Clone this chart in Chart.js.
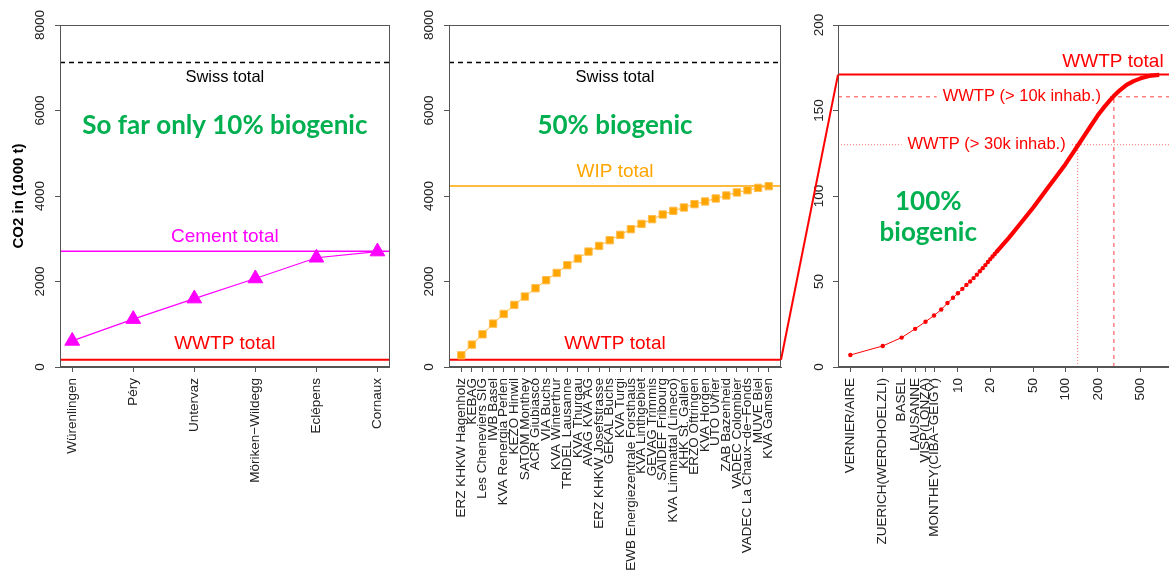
<!DOCTYPE html>
<html lang="en">
<head>
<meta charset="UTF-8">
<title>CO2 point sources</title>
<script src="https://cdn.jsdelivr.net/npm/chart.js"></script>
<style>
  html, body {
    margin: 0;
    padding: 0;
    background: white;
    width: 1169px;
    height: 576px;
    overflow: hidden;
  }
  .panel { position: absolute; top: 0; width: 400px; height: 576px; }
  #p1 { left: 0; }
  #p2 { left: 400px; }
  #p3 { left: 780px; }
  #link { position: absolute; left: 0; top: 0; pointer-events: none; }
</style>
</head>
<body>

<div class="panel" id="p1"><canvas id="c1" width="400" height="576"></canvas></div>
<div class="panel" id="p2"><canvas id="c2" width="400" height="576"></canvas></div>
<div class="panel" id="p3"><canvas id="c3" width="400" height="576"></canvas></div>
<canvas id="link" width="1169" height="576"></canvas>

<script>
// cumulative CO2 in 1000 t

// cement plants
const cementPlants = ['Würenlingen', 'Péry', 'Untervaz', 'Möriken−Wildegg', 'Eclépens', 'Cornaux'];
const cementCum = [610, 1120, 1600, 2070, 2555, 2700];

// waste incineration plants
const wipPlants = [
  'ERZ KHKW Hagenholz', 'KEBAG', 'Les Cheneviers SIG', 'IWB Basel', 'KVA Renergia Perlen',
  'KEZO Hinwil', 'SATOM Monthey', 'ACR Giubiasco', 'VIA Buchs', 'KVA Winterthur',
  'TRIDEL Lausanne', 'KVA Thurgau', 'AVAG KVA AG', 'ERZ KHKW Josefstrasse', 'GEKAL Buchs',
  'KVA Turgi', 'EWB Energiezentrale Forsthaus', 'KVA Linthgebiet', 'GEVAG Trimmis', 'SAIDEF Fribourg',
  'KVA Limmattal (Limeco)', 'KHK St. Gallen', 'ERZO Oftringen', 'KVA Horgen', 'UTO Uvrier',
  'ZAB Bazenheid', 'VADEC Colombier', 'VADEC La Chaux−de−Fonds', 'MUVE Biel', 'KVA Gamsen'
];
const wipCum = [
  274, 524, 765, 1015, 1241, 1452, 1648, 1842, 2030, 2200,
  2381, 2537, 2700, 2833, 2966, 3091, 3224, 3348, 3458, 3567,
  3652, 3731, 3809, 3872, 3942, 4012, 4083, 4136, 4190, 4230
];

// waste water treatment plants, ranked (log axis)
const wwtpNamed = ['VERNIER/AIRE', 'ZUERICH(WERDHOELZLI)', 'BASEL', 'LAUSANNE', 'VISP(LONZA)', 'MONTHEY(CIBA−GEIGY)'];
const rankTicks = [10, 20, 50, 100, 200, 500];
const wwtpRank = [
  1, 2, 3, 4, 5, 6, 7, 8, 9, 10, 11, 12, 13, 14, 15, 16, 17, 18, 19, 20, 21, 22, 23,
  25, 30, 35, 40, 50, 60, 70, 80, 100, 120, 130, 150, 170, 200, 230, 260, 280,
  320, 370, 430, 500, 600, 700, 745
];
const wwtpCum = [
  7.0, 12.3, 17.2, 22.3, 26.5, 30.1, 33.6, 37.4, 40.5, 43.1, 45.7, 48.0, 50.0, 52.0, 54.0,
  56.0, 57.8, 59.6, 61.4, 63.1, 64.6, 66.1, 67.5,
  70.1, 75.8, 81.0, 85.5, 93.1, 99.8, 105.5, 110.4, 118.6, 126.1, 129.4, 135.3, 140.5,
  147.2, 152.1, 156.1, 158.3, 161.8, 165.0, 167.2, 168.8, 170.2, 170.7, 170.8
];

// totals
const swissTotal = 7120;
const cementTotal = 2710;
const wipTotal = 4235;
const wwtpTotal = 171;
const sizeRanks = [282, 130];   // WWTP > 10k, > 30k inhabitants
const sizeCum = [158, 130];

const GREEN = '#00b050';
const RED = '#ff0000';
const MAGENTA = '#ff00ff';
const ORANGE = '#ffa500';
const AXIS = '#555';
const sans = "'Liberation Sans', Arial, sans-serif";
const tickFont = { family: sans, size: 13.5 };
const bigGreen = { family: "Lato, 'Open Sans', sans-serif", size: 26, weight: 'bold' };

function drawNote(ctx, a, x, y, n) {
  const f = n.font;
  ctx.font = (f.weight || 'normal') + ' ' + f.size + 'px ' + f.family;
  let px;
  if (n.x === 'center') px = (a.left + a.right) / 2;
  else if (n.x === 'right') px = a.right;
  else px = x.getPixelForValue(n.x);
  px += n.dx || 0;
  const py = y.getPixelForValue(n.y) + (n.dy || 0);
  ctx.textAlign = n.align || 'center';
  ctx.textBaseline = 'middle';
  if (n.bg) {
    const w = ctx.measureText(n.text).width;
    const x0 = n.align === 'right' ? px - w : px - w / 2;
    ctx.fillStyle = n.bg;
    ctx.fillRect(x0 - 6, py - f.size / 2 - 1, w + 12, f.size + 2);
  }
  ctx.fillStyle = n.color;
  ctx.fillText(n.text, px, py);
}

function decor(id, lines, notes) {
  return {
    id: id,
    beforeDatasetsDraw(chart) {
      const { ctx, chartArea: a, scales: { x, y } } = chart;
      ctx.save();
      for (const l of lines) {
        ctx.strokeStyle = l.color;
        ctx.lineWidth = l.width;
        ctx.setLineDash(l.dash || []);
        ctx.beginPath();
        if (l.x !== undefined) {
          const px = x.getPixelForValue(l.x);
          ctx.moveTo(px, a.bottom);
          ctx.lineTo(px, y.getPixelForValue(l.y));
        } else {
          const py = y.getPixelForValue(l.y);
          ctx.moveTo(a.left, py);
          ctx.lineTo(a.right, py);
        }
        ctx.stroke();
      }
      ctx.setLineDash([]);
      // labels with a background sit under the data
      notes.filter(n => n.bg).forEach(n => drawNote(ctx, a, x, y, n));
      ctx.restore();
    },
    afterDatasetsDraw(chart) {
      const { ctx, chartArea: a, scales: { x, y } } = chart;
      ctx.save();
      // plot box
      ctx.strokeStyle = AXIS;
      ctx.lineWidth = 1;
      ctx.strokeRect(Math.round(a.left) + 0.5, Math.round(a.top) + 0.5,
                     Math.round(a.width) - 1, Math.round(a.height) - 1);
      notes.filter(n => !n.bg).forEach(n => drawNote(ctx, a, x, y, n));
      ctx.restore();
    }
  };
}

function yAxis(max, step, width, pad, title) {
  return {
    min: 0,
    max: max,
    border: { display: true, color: AXIS },
    grid: { drawOnChartArea: false, tickLength: 5, color: AXIS },
    ticks: {
      stepSize: step, minRotation: 90, maxRotation: 90, crossAlign: 'center',
      padding: pad, color: '#222', font: tickFont,
      callback: v => String(v)
    },
    title: title ? {
      display: true, text: title, color: '#000',
      font: { family: sans, size: 15, weight: 'bold' },
      padding: { top: 10, bottom: 0 }
    } : { display: false },
    afterFit: s => { s.width = width; }
  };
}

function xAxis(type, min, max, tickValues, label) {
  return {
    type: type,
    min: min,
    max: max,
    border: { display: true, color: AXIS },
    grid: { drawOnChartArea: false, tickLength: 5, color: AXIS },
    afterBuildTicks: s => { s.ticks = tickValues.map(v => ({ value: v })); },
    ticks: {
      autoSkip: false, minRotation: 90, maxRotation: 90, padding: 6,
      color: '#222', font: tickFont,
      callback: v => label(v)
    },
    afterFit: s => { s.height = 209; }
  };
}

function baseOptions(padRight, scales) {
  return {
    responsive: false,
    animation: false,
    layout: { padding: { left: 0, top: 25, right: padRight, bottom: 0 } },
    plugins: { legend: { display: false }, tooltip: { enabled: false } },
    scales: scales
  };
}

// panel 1: cement
const chart1 = new Chart(document.getElementById('c1'), {
  type: 'scatter',
  data: {
    datasets: [{
      data: cementCum.map((v, i) => ({ x: i + 1, y: v })),
      showLine: true,
      borderColor: MAGENTA,
      borderWidth: 1.2,
      pointStyle: 'triangle',
      pointRadius: 8.5,
      pointBackgroundColor: MAGENTA,
      pointBorderColor: MAGENTA,
      pointBorderWidth: 1
    }]
  },
  options: baseOptions(8, {
    x: xAxis('linear', 0.8, cementPlants.length + 0.2, cementPlants.map((_, i) => i + 1), v => cementPlants[v - 1]),
    y: yAxis(8000, 2000, 60, 0, 'CO2 in (1000 t)')
  }),
  plugins: [decor('d1', [
    { y: swissTotal, color: '#000', width: 1.5, dash: [5, 4] },
    { y: cementTotal, color: MAGENTA, width: 1.5 },
    { y: wwtpTotal, color: RED, width: 2 }
  ], [
    { text: 'Swiss total', x: 'center', y: swissTotal, dy: 15, color: '#000', font: { family: sans, size: 16.5 } },
    { text: 'So far only 10% biogenic', x: 'center', y: 5650, color: GREEN, font: bigGreen },
    { text: 'Cement total', x: 'center', y: cementTotal, dy: -14, color: MAGENTA, font: { family: sans, size: 19 } },
    { text: 'WWTP total', x: 'center', y: wwtpTotal, dy: -16, color: RED, font: { family: sans, size: 19 } }
  ])]
});

// panel 2: waste incineration
const span2 = (wipPlants.length - 1) * 0.04;
const chart2 = new Chart(document.getElementById('c2'), {
  type: 'scatter',
  data: {
    datasets: [{
      data: wipCum.map((v, i) => ({ x: i + 1, y: v })),
      showLine: true,
      borderColor: 'rgba(255,165,0,0.8)',
      borderWidth: 1,
      pointStyle: 'rect',
      pointRadius: 5.2,
      pointBackgroundColor: ORANGE,
      pointBorderColor: 'rgba(255,190,80,1)',
      pointBorderWidth: 1
    }]
  },
  options: baseOptions(19, {
    x: xAxis('linear', 1 - span2, wipPlants.length + span2, wipPlants.map((_, i) => i + 1), v => wipPlants[v - 1]),
    y: yAxis(8000, 2000, 49, 0, null)
  }),
  plugins: [decor('d2', [
    { y: swissTotal, color: '#000', width: 1.5, dash: [5, 4] },
    { y: wipTotal, color: ORANGE, width: 1.5 },
    { y: wwtpTotal, color: RED, width: 2 }
  ], [
    { text: 'Swiss total', x: 'center', y: swissTotal, dy: 15, color: '#000', font: { family: sans, size: 16.5 } },
    { text: '50% biogenic', x: 'center', y: 5650, color: GREEN, font: bigGreen },
    { text: 'WIP total', x: 'center', y: wipTotal, dy: -14, color: ORANGE, font: { family: sans, size: 19 } },
    { text: 'WWTP total', x: 'center', y: wwtpTotal, dy: -16, color: RED, font: { family: sans, size: 19 } }
  ])]
});

// panel 3: WWTPs by rank
const lastRank = wwtpRank[wwtpRank.length - 1];
const ext3 = Math.log10(lastRank) * 0.04;
const dotRank = 23;
const chart3 = new Chart(document.getElementById('c3'), {
  type: 'scatter',
  data: {
    datasets: [{
      data: wwtpCum.map((v, i) => ({ x: wwtpRank[i], y: v })),
      showLine: true,
      borderColor: RED,
      borderWidth: 4,
      borderJoinStyle: 'round',
      segment: {
        borderWidth: c => wwtpRank[c.p1DataIndex] <= dotRank ? 1 : 4.2
      },
      pointRadius: c => wwtpRank[c.dataIndex] <= dotRank ? 2.2 : 0,
      pointBackgroundColor: RED,
      pointBorderWidth: 0
    }]
  },
  options: baseOptions(8.4, {
    x: xAxis('logarithmic', Math.pow(10, -ext3), Math.pow(10, Math.log10(lastRank) + ext3),
      wwtpNamed.map((_, i) => i + 1).concat(rankTicks),
      v => v <= wwtpNamed.length ? wwtpNamed[v - 1] : String(v)),
    y: yAxis(200, 50, 58, 2, null)
  }),
  plugins: [decor('d3', [
    { y: wwtpTotal, color: RED, width: 2 },
    { y: sizeCum[0], color: 'rgba(255,0,0,0.75)', width: 1, dash: [4, 4] },
    { x: sizeRanks[0], y: sizeCum[0], color: 'rgba(255,0,0,0.75)', width: 1, dash: [4, 4] },
    { y: sizeCum[1], color: 'rgba(255,0,0,0.55)', width: 1, dash: [1, 2] },
    { x: sizeRanks[1], y: sizeCum[1], color: 'rgba(255,0,0,0.55)', width: 1, dash: [1, 2] }
  ], [
    { text: 'WWTP total', x: 'right', dx: -8, align: 'right', y: wwtpTotal, dy: -13, color: RED, font: { family: sans, size: 19 } },
    { text: 'WWTP (> 10k inhab.)', x: sizeRanks[0], dx: -13, align: 'right', y: sizeCum[0], color: RED, bg: '#fff', font: { family: sans, size: 16.5 } },
    { text: 'WWTP (> 30k inhab.)', x: sizeRanks[1], dx: -12, align: 'right', y: sizeCum[1], color: RED, bg: '#fff', font: { family: sans, size: 16.5 } },
    { text: '100%', x: 5.3, y: 96.6, color: GREEN, font: bigGreen },
    { text: 'biogenic', x: 5.3, y: 78.3, color: GREEN, font: bigGreen }
  ])]
});

// red link: WWTP total in panel 2 blown up to panel 3
const link = document.getElementById('link').getContext('2d');
const x2 = document.getElementById('p2').offsetLeft + chart2.chartArea.right;
const y2 = chart2.scales.y.getPixelForValue(wwtpTotal);
const x3 = document.getElementById('p3').offsetLeft + chart3.chartArea.left;
const y3 = chart3.scales.y.getPixelForValue(wwtpTotal);
link.strokeStyle = RED;
link.lineWidth = 2;
link.beginPath();
link.moveTo(x2, y2);
link.lineTo(x3, y3);
link.stroke();
</script>
</body>
</html>
